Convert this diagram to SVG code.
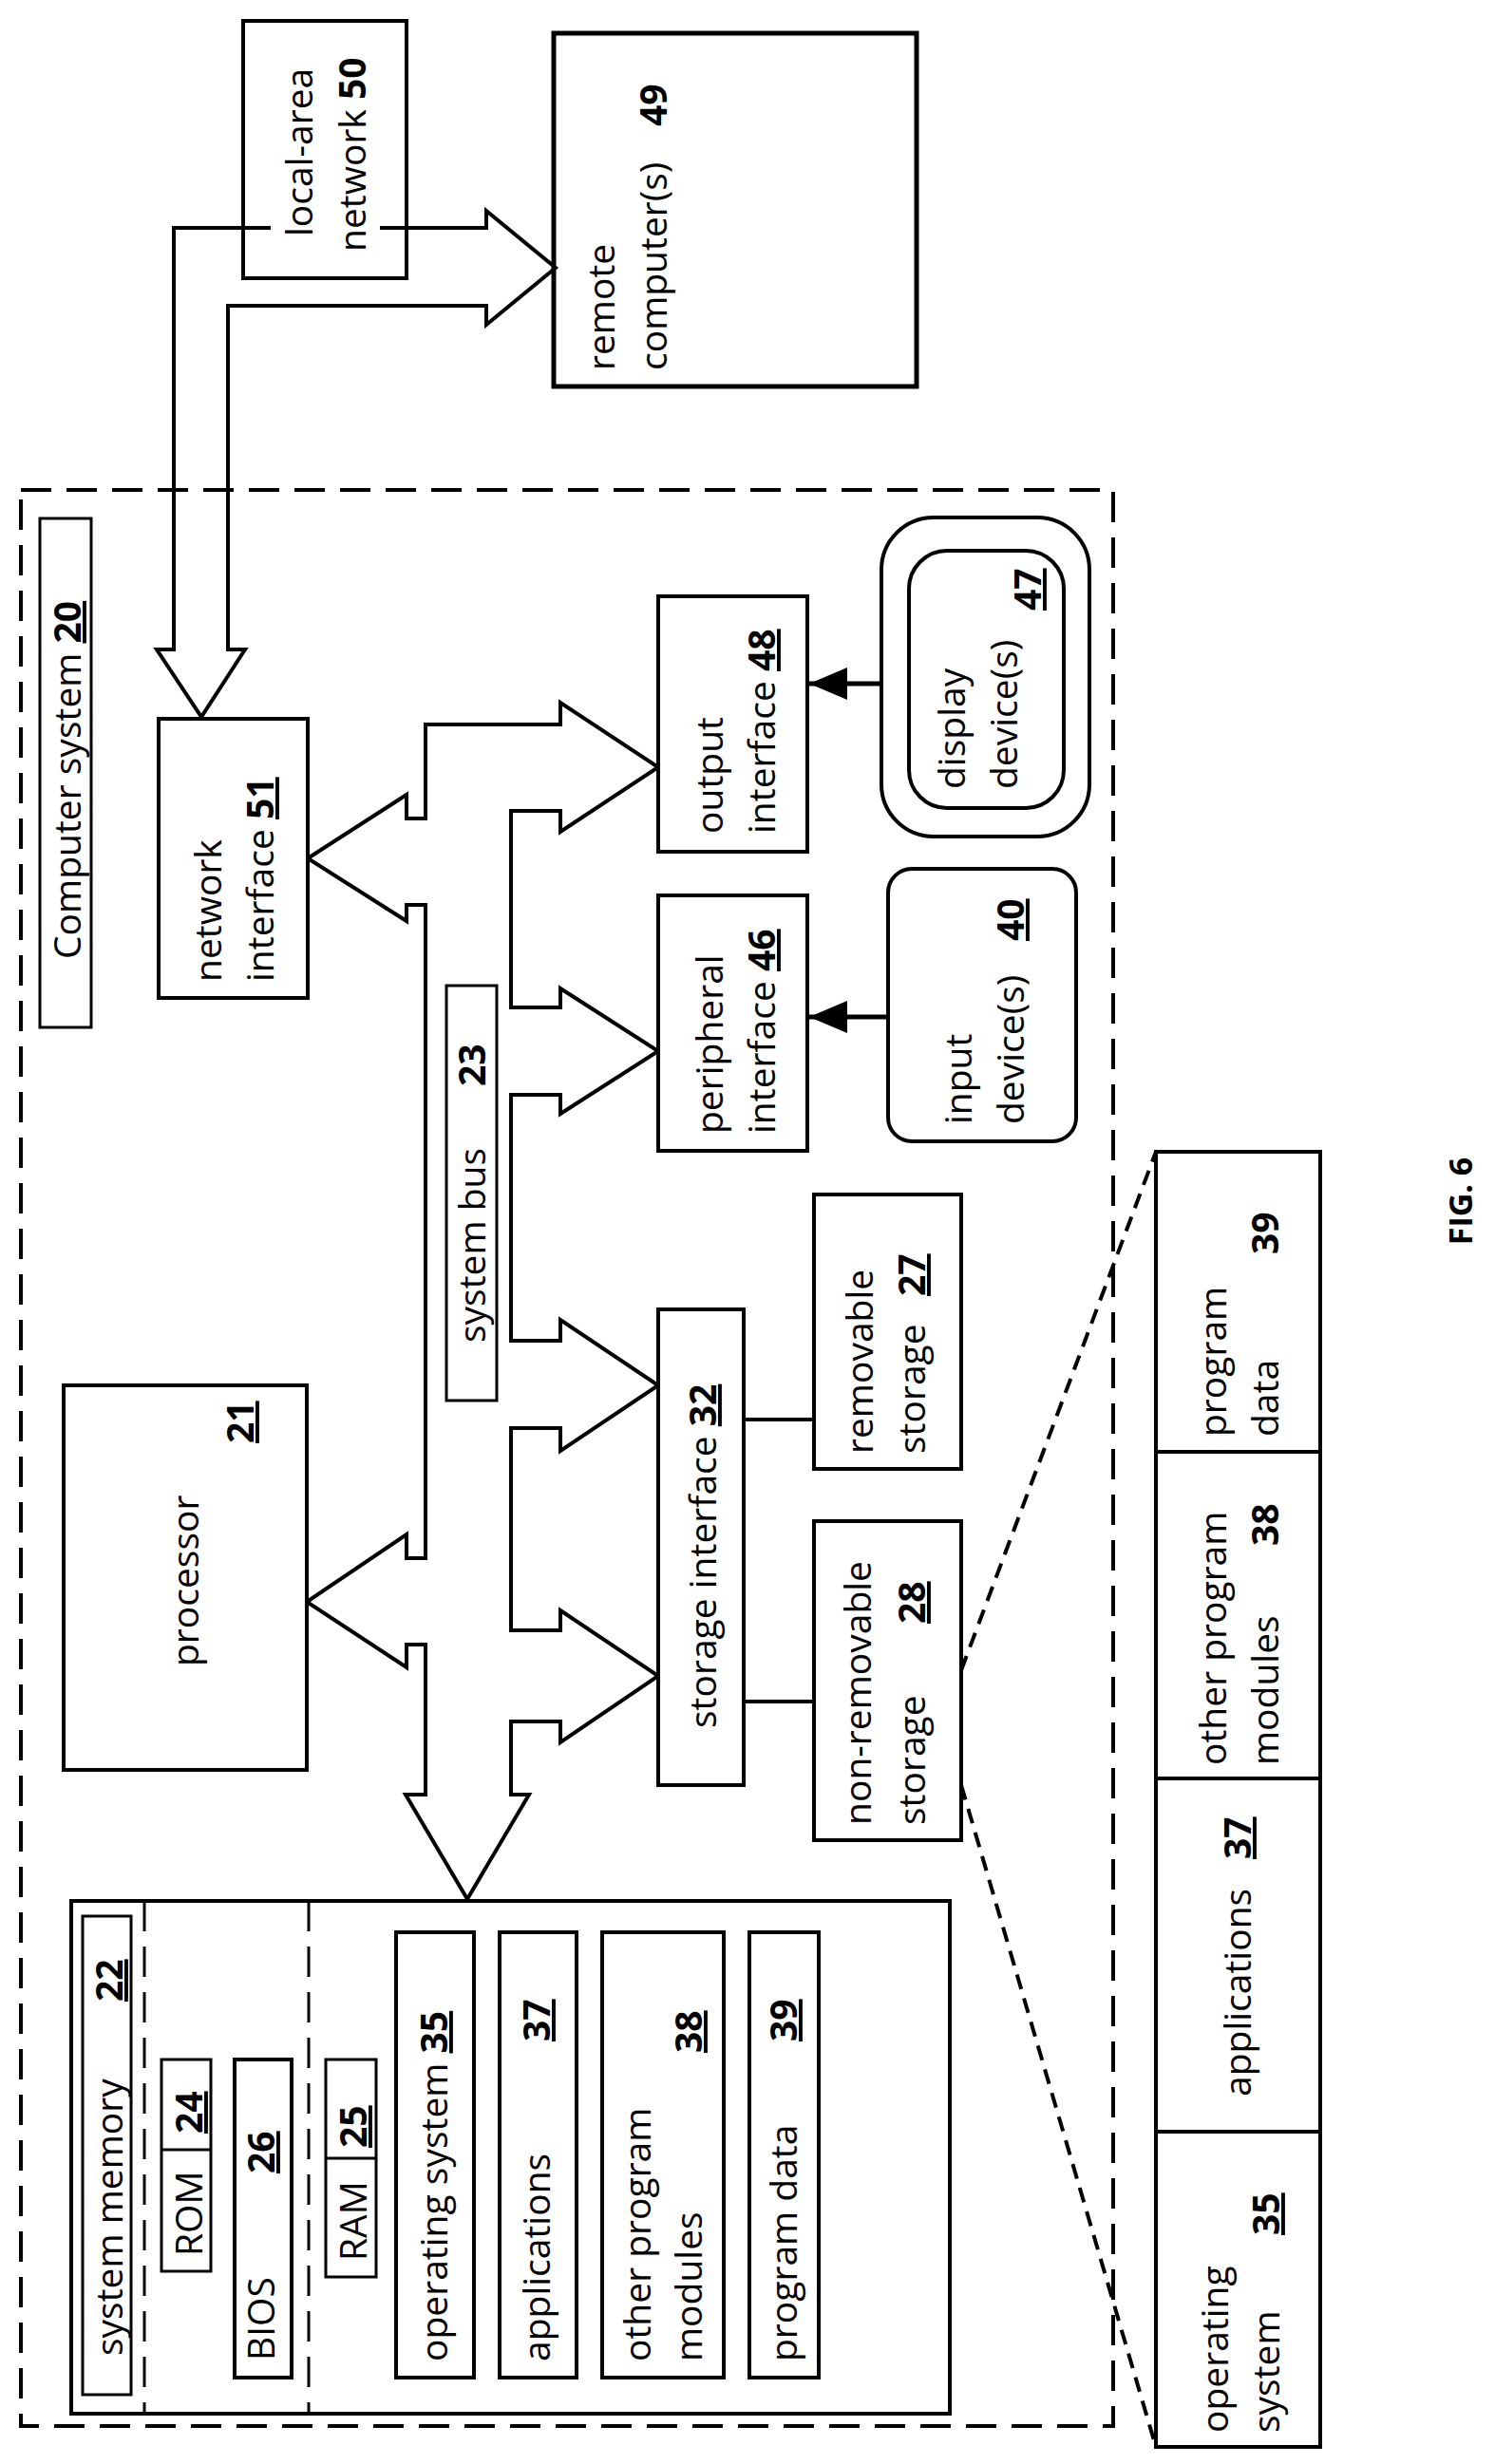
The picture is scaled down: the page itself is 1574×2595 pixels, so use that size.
<svg xmlns="http://www.w3.org/2000/svg" width="1574" height="2595" viewBox="0 0 1574 2595">
<style>
.b{fill:#fff;stroke:#000;stroke-width:4}
.n{fill:none;stroke:#000;stroke-width:4}
.d{fill:none;stroke:#000;stroke-width:4;stroke-dasharray:32 16}
.dz{fill:none;stroke:#000;stroke-width:4;stroke-dasharray:16 10}
.t{font-family:"Open Sans","Liberation Sans",sans-serif;font-size:39px;fill:#000}
.k{font-weight:bold;text-decoration:underline}
.kb{font-weight:bold}
</style>
<defs>
<marker id="ah" markerWidth="40" markerHeight="34" refX="40" refY="17" orient="auto" markerUnits="userSpaceOnUse" viewBox="0 0 40 34">
<path d="M0,0 L40,17 L0,34 Z" fill="#000"/>
</marker>
</defs>
<rect class="d" x="22" y="516" width="1150" height="2039"/>
<g id="lan"><rect class="b" x="256" y="22" width="172" height="271"/>
<text class="t" transform="translate(329,249) rotate(-90)">local-area</text>
<text class="t" transform="translate(385,265) rotate(-90)">network <tspan class="kb">50</tspan></text></g>
<g id="remote"><rect class="b" x="583" y="35" width="382" height="372" style="stroke-width:5"/>
<text class="t" transform="translate(647,390) rotate(-90)">remote</text>
<text class="t" transform="translate(702,390) rotate(-90)">computer(s)</text>
<text class="t kb" transform="translate(702,133) rotate(-90)">49</text></g>
<g id="connectors">
<path class="n" d="M285,240 L183,240 L183,684 L165,684 L212,755 L258,684 L240,684 L240,322 L512,322 L512,342 L585,282 L512,222 L512,240 L400,240"/>
<path class="b" d="M324,904 L428,837 L428,862 L448,862 L448,763 L590,763 L590,740 L693,808 L590,876 L590,854 L538,854 L538,1061 L590,1061 L590,1041 L693,1107 L590,1173 L590,1153 L538,1153 L538,1412 L590,1412 L590,1390 L693,1459 L590,1528 L590,1504 L538,1504 L538,1717 L590,1717 L590,1696 L693,1765 L590,1835 L590,1813 L538,1813 L538,1890 L557,1890 L492,2000 L427,1890 L448,1890 L448,1732 L428,1732 L428,1756 L323,1687 L428,1616 L428,1641 L448,1641 L448,953 L428,953 L428,970 Z"/>
<line class="n" x1="928" y1="720" x2="852" y2="720" marker-end="url(#ah)" style="stroke-width:5"/>
<line class="n" x1="935" y1="1071" x2="852" y2="1071" marker-end="url(#ah)" style="stroke-width:5"/>
<line class="n" x1="783" y1="1495" x2="857" y2="1495"/>
<line class="n" x1="783" y1="1792" x2="857" y2="1792"/>
<line class="dz" x1="1012" y1="1759" x2="1217" y2="1213"/>
<line class="dz" x1="1012" y1="1880" x2="1217" y2="2577"/>
</g>
<g id="cs"><rect class="b" x="42" y="546" width="54" height="536" style="stroke-width:3"/>
<text class="t" transform="translate(85,1010) rotate(-90)">Computer system <tspan class="k">20</tspan></text></g>
<g id="netif"><rect class="b" x="167" y="757" width="157" height="294"/>
<text class="t" transform="translate(233,1034) rotate(-90)">network</text>
<text class="t" transform="translate(288,1034) rotate(-90)">interface <tspan class="k">51</tspan></text></g>
<g id="bus"><rect class="b" x="470" y="1038" width="53" height="437" style="stroke-width:3"/>
<text class="t" transform="translate(511,1414) rotate(-90)">system bus</text>
<text class="t kb" transform="translate(511,1144) rotate(-90)">23</text></g>
<g id="outif"><rect class="b" x="693" y="628" width="157" height="269"/>
<text class="t" transform="translate(761,878) rotate(-90)">output</text>
<text class="t" transform="translate(816,878) rotate(-90)">interface <tspan class="k">48</tspan></text></g>
<g id="perif"><rect class="b" x="693" y="943" width="157" height="269"/>
<text class="t" transform="translate(761,1194) rotate(-90)">peripheral</text>
<text class="t" transform="translate(816,1194) rotate(-90)">interface <tspan class="k">46</tspan></text></g>
<g id="display"><rect class="b" x="928" y="545" width="219" height="336" rx="55"/>
<rect class="b" x="957" y="580" width="163" height="271" rx="40"/>
<text class="t" transform="translate(1016,831) rotate(-90)">display</text>
<text class="t" transform="translate(1071,831) rotate(-90)">device(s)</text>
<text class="t k" transform="translate(1096,643) rotate(-90)">47</text></g>
<g id="input"><rect class="b" x="935" y="915" width="198" height="287" rx="25"/>
<text class="t" transform="translate(1023,1184) rotate(-90)">input</text>
<text class="t" transform="translate(1078,1184) rotate(-90)">device(s)</text>
<text class="t k" transform="translate(1078,991) rotate(-90)">40</text></g>
<g id="stif"><rect class="b" x="693" y="1379" width="90" height="501"/>
<text class="t" transform="translate(754,1820) rotate(-90)">storage interface <tspan class="k">32</tspan></text></g>
<g id="rem"><rect class="b" x="857" y="1258" width="155" height="289"/>
<text class="t" transform="translate(919,1531) rotate(-90)">removable</text>
<text class="t" transform="translate(974,1531) rotate(-90)">storage</text>
<text class="t k" transform="translate(974,1365) rotate(-90)">27</text></g>
<g id="nonrem"><rect class="b" x="857" y="1602" width="155" height="336"/>
<text class="t" transform="translate(917,1922) rotate(-90)">non-removable</text>
<text class="t" transform="translate(974,1922) rotate(-90)">storage</text>
<text class="t k" transform="translate(974,1710) rotate(-90)">28</text></g>
<g id="proc"><rect class="b" x="67" y="1459" width="256" height="405"/>
<text class="t" transform="translate(209,1755) rotate(-90)">processor</text>
<text class="t k" transform="translate(267,1520) rotate(-90)">21</text></g>
<g id="sysmem"><rect class="b" x="75" y="2002" width="925" height="540"/>
<line class="d" x1="152" y1="2002" x2="152" y2="2542" style="stroke-width:3"/>
<line class="d" x1="325" y1="2002" x2="325" y2="2542" style="stroke-width:3"/>
<rect class="b" x="87" y="2018" width="51" height="504" style="stroke-width:3"/>
<text class="t" transform="translate(129,2481) rotate(-90)">system memory</text>
<text class="t k" transform="translate(129,2108) rotate(-90)">22</text>
<rect class="b" x="170" y="2169" width="52" height="223" style="stroke-width:3"/>
<line class="n" x1="170" y1="2264" x2="222" y2="2264" style="stroke-width:3"/>
<text class="t" transform="translate(213,2376) rotate(-90)">ROM</text>
<text class="t k" transform="translate(213,2247) rotate(-90)">24</text>
<rect class="b" x="247" y="2169" width="60" height="335"/>
<text class="t" transform="translate(289,2486) rotate(-90)">BIOS</text>
<text class="t k" transform="translate(289,2289) rotate(-90)">26</text>
<rect class="b" x="343" y="2169" width="53" height="229" style="stroke-width:3"/>
<line class="n" x1="343" y1="2273" x2="396" y2="2273" style="stroke-width:3"/>
<text class="t" transform="translate(386,2381) rotate(-90)">RAM</text>
<text class="t k" transform="translate(386,2262) rotate(-90)">25</text>
<rect class="b" x="417" y="2035" width="82" height="469"/>
<text class="t" transform="translate(471,2487) rotate(-90)">operating system <tspan class="k">35</tspan></text>
<rect class="b" x="526" y="2035" width="81" height="469"/>
<text class="t" transform="translate(579,2487) rotate(-90)">applications</text>
<text class="t k" transform="translate(579,2150) rotate(-90)">37</text>
<rect class="b" x="634" y="2035" width="128" height="469"/>
<text class="t" transform="translate(685,2487) rotate(-90)">other program</text>
<text class="t" transform="translate(739,2487) rotate(-90)">modules</text>
<text class="t k" transform="translate(739,2162) rotate(-90)">38</text>
<rect class="b" x="789" y="2035" width="73" height="469"/>
<text class="t" transform="translate(839,2487) rotate(-90)">program data</text>
<text class="t k" transform="translate(839,2150) rotate(-90)">39</text></g>
<g id="panel"><rect class="b" x="1217" y="1213" width="173" height="1364"/>
<line class="n" x1="1217" y1="1529" x2="1390" y2="1529"/>
<line class="n" x1="1217" y1="1873" x2="1390" y2="1873"/>
<line class="n" x1="1217" y1="2245" x2="1390" y2="2245"/>
<text class="t" transform="translate(1293,2562) rotate(-90)">operating</text>
<text class="t" transform="translate(1347,2562) rotate(-90)">system</text>
<text class="t k" transform="translate(1347,2354) rotate(-90)">35</text>
<text class="t" transform="translate(1317,2208) rotate(-90)">applications</text>
<text class="t k" transform="translate(1317,1958) rotate(-90)">37</text>
<text class="t" transform="translate(1291,1859) rotate(-90)">other program</text>
<text class="t" transform="translate(1346,1859) rotate(-90)">modules</text>
<text class="t kb" transform="translate(1346,1628) rotate(-90)">38</text>
<text class="t" transform="translate(1291,1513) rotate(-90)">program</text>
<text class="t" transform="translate(1346,1513) rotate(-90)">data</text>
<text class="t kb" transform="translate(1346,1321) rotate(-90)">39</text></g>
<text class="t kb" transform="translate(1550,1265) rotate(-90)" text-anchor="middle" style="font-size:34px">FIG. 6</text>
</svg>
